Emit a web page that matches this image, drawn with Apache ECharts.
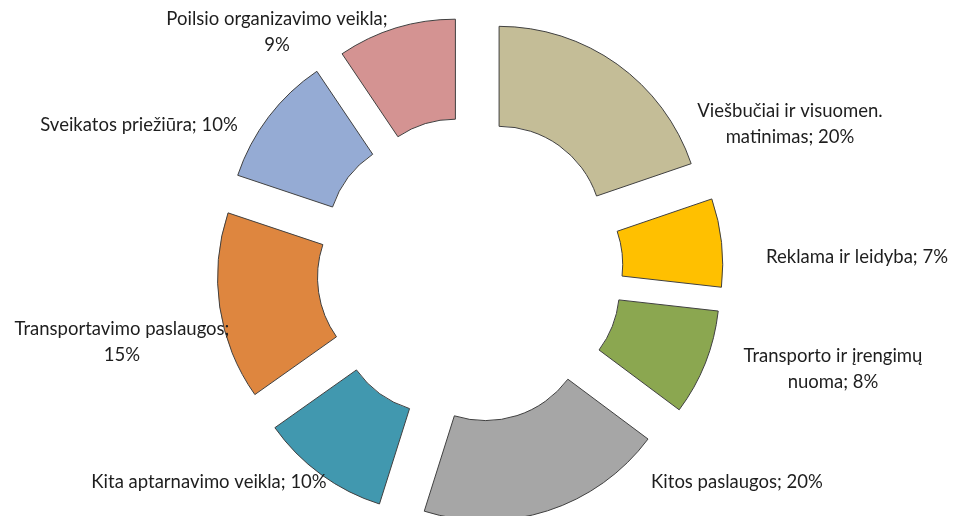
<!DOCTYPE html>
<html>
<head>
<meta charset="utf-8">
<script src="https://cdn.jsdelivr.net/npm/echarts@6/dist/echarts.min.js"></script>
<style>
  html, body { margin: 0; padding: 0; background: #fff; }
  #chart { width: 954px; height: 516px; }
</style>
</head>
<body>
<div id="chart"></div>
<script>
// sektoriai, pradedant nuo 12 val. pagal laikrodžio rodyklę
const categories = [
  'Viešbučiai ir visuomen.\nmatinimas',
  'Reklama ir leidyba',
  'Transporto ir įrengimų\nnuoma',
  'Kitos paslaugos',
  'Kita aptarnavimo veikla',
  'Transportavimo paslaugos;\n',
  'Sveikatos priežiūra',
  'Poilsio organizavimo veikla;\n'
]
// dalys (%), įvertintos iš sektorių kampų; etiketėse suapvalinta
const values = [19.7, 7.0, 8.4, 19.6, 10.3, 14.9, 10.4, 9.4]
const colors = ['#C4BD97', '#FFC000', '#8BA750', '#A6A6A6', '#4198AF', '#DE863F', '#95ABD4', '#D49392']

// etikečių centrai (px)
const labelPos = [[790, 124], [857, 257], [833, 369], [737, 482], [209, 482], [122, 342], [139, 125], [277, 32]]

const labelText = (name, value) => {
  const pct = Math.round(value) + '%'
  return name.endsWith('\n') ? name + pct : name + '; ' + pct
}

const data = categories.map((name, i) => ({
  name: name,
  value: values[i],
  selected: true,
  itemStyle: { color: colors[i] }
}))

const labels = categories.map((name, i) => ({
  type: 'text',
  x: labelPos[i][0],
  y: labelPos[i][1],
  z: 100,
  silent: true,
  style: {
    text: labelText(name, values[i]),
    font: '18.5px Lato',
    fill: '#1e1e1e',
    align: 'center',
    verticalAlign: 'middle',
    lineHeight: 26
  }
}))

const chart = echarts.init(document.getElementById('chart'))
chart.setOption({
  animation: false,
  graphic: labels,
  series: [
    {
      type: 'pie',
      center: [470, 270],
      radius: [103, 203],
      startAngle: 90,
      clockwise: true,
      selectedMode: 'multiple',
      selectedOffset: 50,
      itemStyle: {
        borderColor: '#404040',
        borderWidth: 1
      },
      label: { show: false },
      labelLine: { show: false },
      emphasis: { disabled: true },
      data: data
    }
  ]
})
</script>
</body>
</html>
